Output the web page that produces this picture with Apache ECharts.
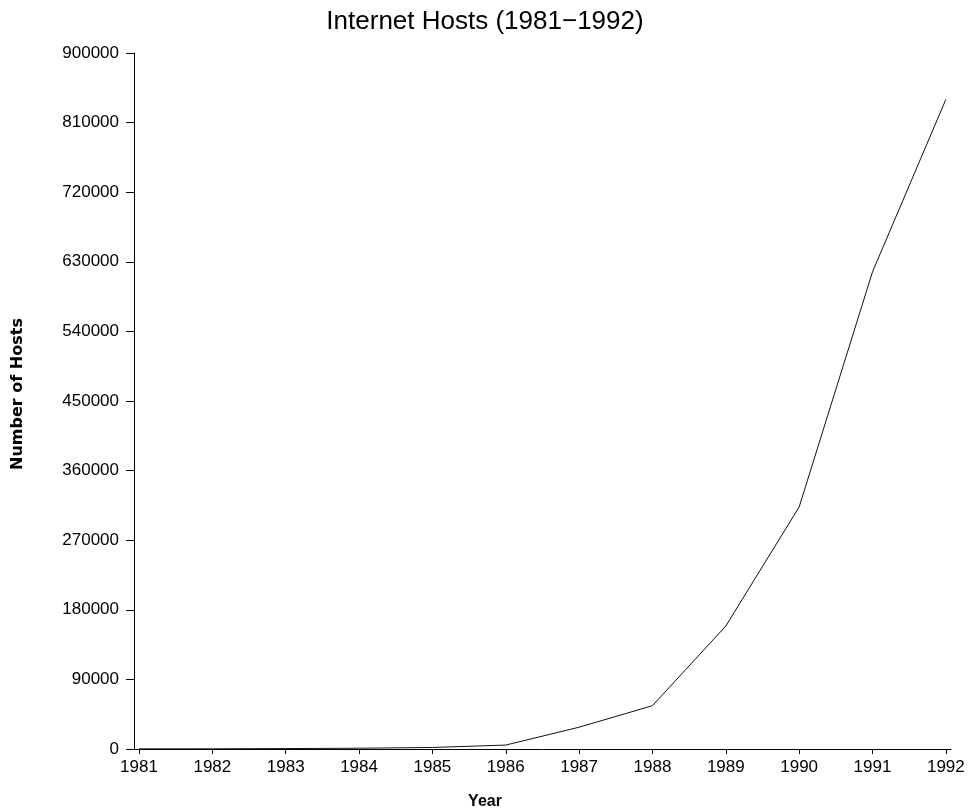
<!DOCTYPE html>
<html>
<head>
<meta charset="utf-8">
<script src="https://cdn.jsdelivr.net/npm/echarts@6/dist/echarts.min.js"></script>
<style>
  html, body { margin: 0; padding: 0; background: #fff; }
  #chart { width: 970px; height: 810px; }
</style>
</head>
<body>
<div id="chart"></div>
<script>
// Internet host counts by year
const years = [1981, 1982, 1983, 1984, 1985, 1986, 1987, 1988, 1989, 1990, 1991, 1992];
const hosts = [213, 235, 562, 1024, 1961, 5089, 28174, 56000, 159000, 313000, 617000, 840000];

const labelFont = "'Liberation Sans', Arial, sans-serif";

const chart = echarts.init(document.getElementById('chart'), null, { renderer: 'canvas' });

chart.setOption({
  animation: false,
  backgroundColor: '#ffffff',
  title: [
    {
      text: 'Internet Hosts (1981\u22121992)',
      left: 'center',
      top: 4,
      textStyle: { fontFamily: labelFont, fontSize: 26, fontWeight: 'normal', color: '#000' }
    },
    {
      text: 'Year',
      left: 'center',
      top: 789,
      textStyle: { fontFamily: labelFont, fontSize: 16, fontWeight: 'bold', color: '#000' }
    }
  ],
  grid: {
    left: 134,
    right: 19,
    top: 53,
    bottom: 61,
    outerBoundsMode: 'none'
  },
  xAxis: {
    type: 'value',
    min: 1980.932,
    max: 1992.07,
    axisLine: { show: true, lineStyle: { color: '#000', width: 1 } },
    axisTick: {
      show: true,
      customValues: years,
      length: 5,
      lineStyle: { color: '#000', width: 1 }
    },
    axisLabel: {
      customValues: years,
      margin: 10,
      fontFamily: labelFont,
      fontSize: 17,
      color: '#000',
      formatter: v => String(Math.round(v))
    },
    splitLine: { show: false }
  },
  yAxis: {
    type: 'value',
    min: 0,
    max: 900000,
    interval: 90000,
    name: 'Number of Hosts',
    nameLocation: 'middle',
    nameGap: 108,
    nameRotate: 90,
    nameTextStyle: { fontFamily: "'DejaVu Sans', sans-serif", fontSize: 16, fontWeight: 'bold', color: '#000', padding: [0, 0, 0, 14] },
    axisLine: { show: true, lineStyle: { color: '#000', width: 1 } },
    axisTick: { show: true, length: 8, lineStyle: { color: '#000', width: 1 } },
    axisLabel: {
      margin: 15,
      fontFamily: labelFont,
      fontSize: 17,
      color: '#000',
      formatter: v => String(v)
    },
    splitLine: { show: false }
  },
  series: [
    {
      type: 'line',
      data: years.map((y, i) => [y, hosts[i]]),
      showSymbol: false,
      symbol: 'none',
      lineStyle: { color: '#111', width: 1 },
      clip: false
    }
  ]
});
</script>
</body>
</html>
